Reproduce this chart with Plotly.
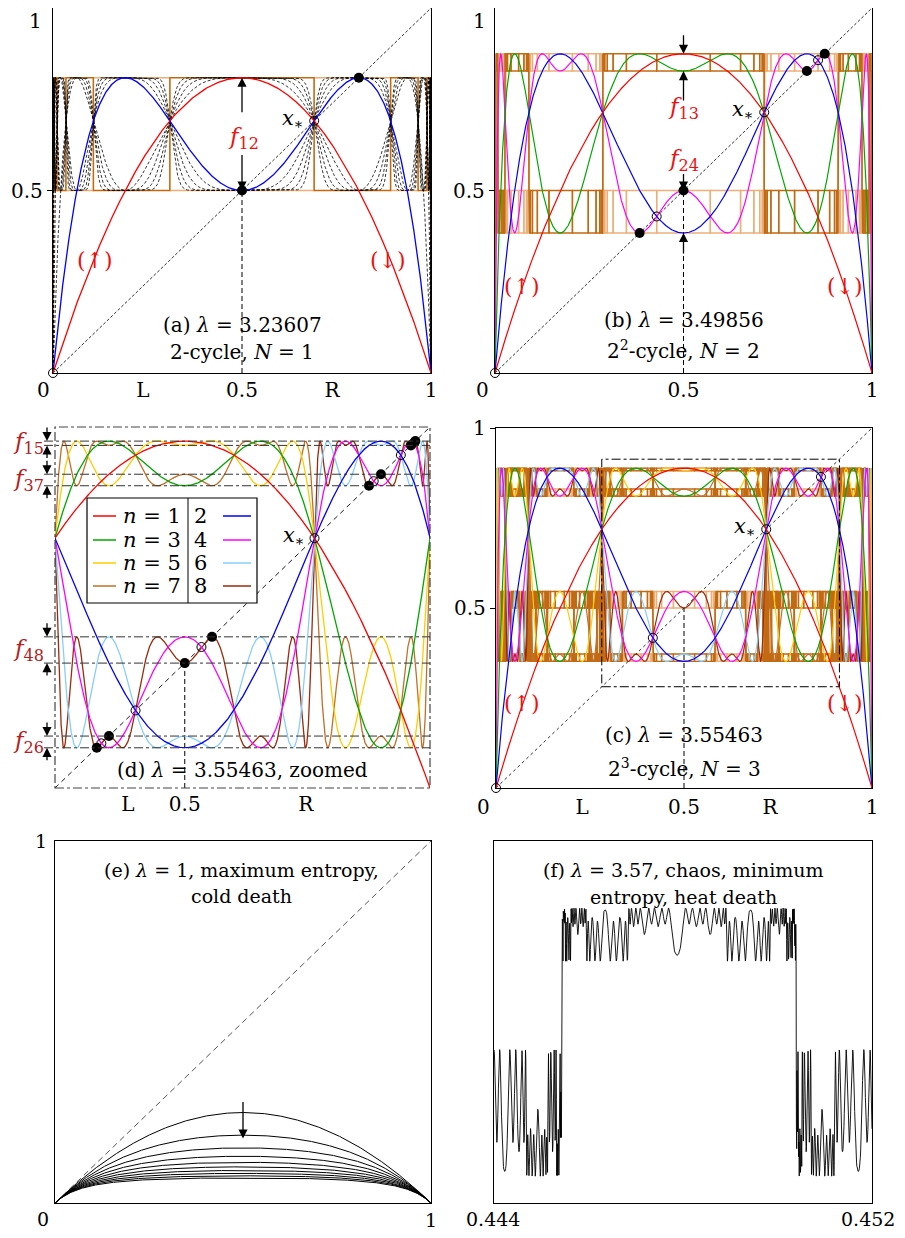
import numpy as np
import plotly.graph_objects as go

# ---------------- data ----------------
LAMBDA_A = 3.23607          # (a) superstable 2-cycle
LAMBDA_B = 3.49856          # (b) superstable 4-cycle
LAMBDA_C = 3.55463          # (c),(d) superstable 8-cycle
LAMBDA_E = 1.0              # (e)
LAMBDA_F = 3.57             # (f)

ITER_A_COLOURED = [1, 2]
ITER_A_DASHED = [3, 4, 5, 6, 7, 8, 9, 10]
ITER_B = [1, 2, 3, 4]
ITER_C = [1, 2, 3, 4, 5, 6, 7, 8]
ITER_E = [1, 2, 3, 4, 5, 6, 7, 8, 9, 10]
ITER_F = 273
PERIOD_A, PERIOD_B, PERIOD_C = 2, 4, 8
LONG_ITER = 256

X_RANGE_F = [0.444, 0.452]
X_TICKTEXT_F = ["0.444", "0.452"]

X_TICKS_A = [0.238, 0.5, 0.738, 1]
X_TICKS_C = [0.229, 0.5, 0.729, 1]
X_TICKTEXT_LR = ["L", "0.5", "R", "1"]
X_TICKS_B = [0.5, 1]
X_TICKTEXT_B = ["0.5", "1"]
X_TICKS_D = [0.404, 0.5, 0.704]
X_TICKTEXT_D = ["L", "0.5", "R"]
GAP_PAIRS_D = [(1, 5), (3, 7), (4, 8), (2, 6)]   # f15, f37, f48, f26

COLOURS = {1: "#ff0000", 2: "#0000ff", 3: "#00a800", 4: "#ff00ff",
           5: "#ffcc00", 6: "#87cefa", 7: "#c0702a", 8: "#9c2a0c"}
ORANGE_LIGHT = "#ebb07a"
ORANGE_DARK = "#c26a12"
RED_TXT = "#ee1111"
GAP_TXT = "#b22222"

# page geometry: the browser puts an 8px body margin round the figure
PAGE_W, PAGE_H, OFF = 905, 1238, 8
W, H = PAGE_W - 2 * OFF, PAGE_H - 2 * OFF
FONT = "DejaVu Serif, serif"

# ---------------- helpers ----------------
def iterate(lam, x, n):
    y = np.array(x, dtype=float)
    for _ in range(n):
        y = lam * y * (1 - y)
    return y

def orbit(lam, x0, p):
    pts, v = [], x0
    for _ in range(p):
        pts.append(v)
        v = lam * v * (1 - v)
    return pts

def fixed_point(lam):
    return 1 - 1 / lam

def two_cycle(lam):
    s = np.sqrt((lam + 1) * (lam - 3))
    return [((lam + 1) - s) / (2 * lam), ((lam + 1) + s) / (2 * lam)]

def cycle_roots(lam, p, exclude):
    xs = np.linspace(1e-7, 1 - 1e-7, 400001)
    g = iterate(lam, xs, p) - xs
    idx = np.where(np.sign(g[:-1]) != np.sign(g[1:]))[0]
    roots = []
    for i in idx:
        a, b = xs[i], xs[i + 1]
        r = a - g[i] * (b - a) / (g[i + 1] - g[i])
        if all(abs(r - e) > 1e-3 for e in exclude):
            roots.append(r)
    return roots

def P(xpx, ypx):
    """screen pixel -> paper coordinate"""
    return (xpx - OFF) / W, 1 - (ypx - OFF) / H

def clamp(v):
    return min(1.0, max(0.0, v))

def dom(x0, x1, y0, y1):
    a, b = P(x0, y1)
    c, d = P(x1, y0)
    return [clamp(a), clamp(c)], [clamp(b), clamp(d)]

# panel boxes in screen pixels (left, right, top, bottom)
BOX = {"a": (53, 431, 7, 373), "b": (495, 872, 8, 373),
       "c": (496, 872, 428, 788), "d": (55, 430, 427, 788),
       "e": (55, 431, 841, 1203), "f": (494, 872, 841, 1203)}
AX = {"a": ("x", "y"), "b": ("x2", "y2"), "c": ("x3", "y3"),
      "d": ("x4", "y4"), "e": ("x5", "y5"), "f": ("x6", "y6")}

D_LO = 1 / LAMBDA_C                                   # preimage of x*
D_HI = (1 + np.sqrt(1 - 4 / LAMBDA_C ** 2)) / 2       # f(D_HI) = D_LO

xf_grid = np.linspace(X_RANGE_F[0], X_RANGE_F[1], 1201)
yf_vals = iterate(LAMBDA_F, xf_grid, ITER_F)
_span = yf_vals.max() - yf_vals.min()
Y_RANGE_F = [yf_vals.min() - 0.10 * _span, yf_vals.max() + 0.25 * _span]

RANGES = {"a": ([0, 1], [0, 1]), "b": ([0, 1], [0, 1]), "c": ([0, 1], [0, 1]),
          "d": ([D_LO, D_HI], [D_LO, D_HI]), "e": ([0, 1], [0, 1]),
          "f": (X_RANGE_F, Y_RANGE_F)}

def to_paper(panel, xv, yv):
    l, r, t, b = BOX[panel]
    (x0, x1), (y0, y1) = RANGES[panel]
    px = l + (xv - x0) / (x1 - x0) * (r - l)
    py = b - (yv - y0) / (y1 - y0) * (b - t)
    return P(px, py)

fig = go.Figure()

def line(panel, x, y, color, width=1.3, dash=None):
    xa, ya = AX[panel]
    fig.add_trace(go.Scatter(x=x, y=y, mode="lines", xaxis=xa, yaxis=ya,
                             line=dict(color=color, width=width, dash=dash),
                             hoverinfo="skip", showlegend=False))

def markers(panel, pts, filled):
    xa, ya = AX[panel]
    if filled:
        mk = dict(symbol="circle", size=10, color="black")
    else:
        mk = dict(symbol="circle-open", size=9, color="black", line=dict(width=1, color="black"))
    fig.add_trace(go.Scatter(x=pts, y=pts, mode="markers", xaxis=xa, yaxis=ya, marker=mk,
                             cliponaxis=False, hoverinfo="skip", showlegend=False))

def step_functions(panel, lam, period, light_every=2, npts=4001):
    xs = np.linspace(0, 1, npts)
    y = iterate(lam, xs, LONG_ITER)
    for j in range(period):
        line(panel, xs, y, ORANGE_LIGHT if j % light_every == 0 else ORANGE_DARK, width=1.4)
        y = lam * y * (1 - y)

annotations = []
shapes = []

def text(panel, x, y, s, size=20, color="black", xanchor="center", yanchor="middle",
         xshift=0, yshift=0, domain=False):
    xa, ya = AX[panel]
    annotations.append(dict(x=x, y=y, xref=xa + (" domain" if domain else ""),
                            yref=ya + (" domain" if domain else ""), text=s, showarrow=False,
                            font=dict(family=FONT, size=size, color=color),
                            xanchor=xanchor, yanchor=yanchor, xshift=xshift, yshift=yshift))

def ptext(xpx, ypx, s, size=20, color="black", xanchor="center", borderpad=1):
    px, py = P(xpx, ypx)
    annotations.append(dict(x=px, y=py, xref="paper", yref="paper", text=s, showarrow=False,
                            xanchor=xanchor, yanchor="middle", borderpad=borderpad,
                            font=dict(family=FONT, size=size, color=color)))

def arrow(xref, yref, x, y, ay):
    annotations.append(dict(x=x, y=y, xref=xref, yref=yref, text="", showarrow=True,
                            ax=0, ay=ay, arrowhead=2, arrowsize=1.4, arrowwidth=1.3,
                            arrowcolor="black", standoff=0))

def xstar_label(panel, lam):
    xs = fixed_point(lam)
    text(panel, xs, xs, "<i>x</i><sub>∗</sub>", size=21, xanchor="right", xshift=-8, yshift=2)

# ---------------- panel (a) ----------------
xa_grid = np.linspace(0, 1, 3001)
step_functions("a", LAMBDA_A, PERIOD_A)
for n in ITER_A_DASHED:
    line("a", xa_grid, iterate(LAMBDA_A, xa_grid, n), "black", width=0.8, dash="3px,2px")
line("a", [0, 1], [0, 1], "black", width=0.8, dash="3px,2px")
line("a", [0.5, 0.5], [0, 0.5], "black", width=1, dash="5px,3px")
for n in ITER_A_COLOURED[::-1]:
    line("a", xa_grid, iterate(LAMBDA_A, xa_grid, n), COLOURS[n], width=1.3)
markers("a", orbit(LAMBDA_A, 0.5, PERIOD_A), True)
markers("a", [0, fixed_point(LAMBDA_A)], False)
xstar_label("a", LAMBDA_A)
cyc_a = orbit(LAMBDA_A, 0.5, PERIOD_A)
text("a", 0.503, (max(cyc_a) + min(cyc_a)) / 2 - 0.012, "<i>f</i><sub>12</sub>", size=23, color=RED_TXT)
arrow("x", "y", 0.5, max(cyc_a), 36)
arrow("x", "y", 0.5, min(cyc_a), -37)
text("a", 0.111, 0.309, "(↑)", size=22, color=RED_TXT)
text("a", 0.886, 0.309, "(↓)", size=22, color=RED_TXT)
text("a", 0.5, 0.131, "(a) <i>λ</i> = 3.23607", domain=True)
text("a", 0.5, 0.057, "2-cycle, <i>N</i> = 1", domain=True)
ptext(43, 21, "1", xanchor="right", borderpad=0)
ptext(43, 390, "0")

# ---------------- panel (b) ----------------
xb_grid = np.linspace(0, 1, 4001)
step_functions("b", LAMBDA_B, PERIOD_B)
line("b", [0, 1], [0, 1], "black", width=0.8, dash="3px,2px")
line("b", [0.5, 0.5], [0, 0.5], "black", width=1, dash="5px,3px")
for n in ITER_B[::-1]:
    line("b", xb_grid, iterate(LAMBDA_B, xb_grid, n), COLOURS[n], width=1.2)
cyc_b = sorted(orbit(LAMBDA_B, 0.5, PERIOD_B))
markers("b", cyc_b, True)
markers("b", [0, fixed_point(LAMBDA_B)] + two_cycle(LAMBDA_B), False)
xstar_label("b", LAMBDA_B)
arrow("x2", "y2", 0.5, cyc_b[3], -20)
arrow("x2", "y2", 0.5, cyc_b[2], 31)
arrow("x2", "y2", 0.5, cyc_b[1], -18)
arrow("x2", "y2", 0.5, cyc_b[0], 22)
text("b", 0.5, 0.726, "<i>f</i><sub>13</sub>", size=23, color=RED_TXT)
text("b", 0.5, 0.584, "<i>f</i><sub>24</sub>", size=23, color=RED_TXT)
text("b", 0.072, 0.236, "(↑)", size=22, color=RED_TXT)
text("b", 0.928, 0.236, "(↓)", size=22, color=RED_TXT)
text("b", 0.5, 0.145, "(b) <i>λ</i> = 3.49856", domain=True)
text("b", 0.5, 0.063, "2<sup>2</sup>-cycle, <i>N</i> = 2", domain=True)
ptext(487, 21, "1", xanchor="right", borderpad=0)
ptext(482, 390, "0")

# ---------------- panel (c) ----------------
xc_grid = np.linspace(0, 1, 6001)
step_functions("c", LAMBDA_C, PERIOD_C, light_every=4)
line("c", [0, 1], [0, 1], "black", width=0.8, dash="dot")
line("c", [0.5, 0.5], [0, 0.5], "black", width=1, dash="5px,3px")
for n in ITER_C[::-1]:
    line("c", xc_grid, iterate(LAMBDA_C, xc_grid, n), COLOURS[n], width=1.2)
markers("c", [0, fixed_point(LAMBDA_C)] + two_cycle(LAMBDA_C), False)
xstar_label("c", LAMBDA_C)
shapes.append(dict(type="rect", xref="x3", yref="y3", x0=D_LO, x1=D_HI, y0=D_LO, y1=D_HI,
                   line=dict(color="black", width=1, dash="dashdot"), layer="above"))
text("c", 0.069, 0.236, "(↑)", size=22, color=RED_TXT)
text("c", 0.928, 0.236, "(↓)", size=22, color=RED_TXT)
text("c", 0.5, 0.147, "(c) <i>λ</i> = 3.55463", domain=True)
text("c", 0.5, 0.056, "2<sup>3</sup>-cycle, <i>N</i> = 3", domain=True)
ptext(483, 807, "0")

# ---------------- panel (d) ----------------
xd_grid = np.linspace(D_LO, D_HI, 4001)
line("d", [D_LO, D_HI], [D_LO, D_HI], "black", width=0.9, dash="5px,4px")
line("d", [0.5, 0.5], [D_LO, 0.5], "black", width=1, dash="5px,3px")
for n in ITER_C[::-1]:
    line("d", xd_grid, iterate(LAMBDA_C, xd_grid, n), COLOURS[n], width=1.3)
cyc_d = orbit(LAMBDA_C, 0.5, PERIOD_C)     # index k = f^k(0.5), k = 0..7
levels_d = {k if k > 0 else 8: v for k, v in enumerate(cyc_d)}
markers("d", cyc_d, True)
unstable2 = two_cycle(LAMBDA_C)
unstable4 = cycle_roots(LAMBDA_C, 4, [0, fixed_point(LAMBDA_C)] + unstable2)
markers("d", [fixed_point(LAMBDA_C)] + unstable2 + unstable4, False)
xstar_label("d", LAMBDA_C)
fx0, fy1 = to_paper("d", D_LO, D_HI)
fx1, fy0 = to_paper("d", D_HI, D_LO)
shapes.append(dict(type="rect", xref="paper", yref="paper", x0=fx0, x1=fx1, y0=fy0, y1=fy1,
                   line=dict(color="#444444", width=1.2, dash="dashdot"), layer="above"))
left_px, _ = P(44, 0)
arrow_x, _ = P(47, 0)
label_x, _ = P(28, 0)
for (i, j) in GAP_PAIRS_D:
    for k in (i, j):
        _, yp = to_paper("d", D_LO, levels_d[k])
        shapes.append(dict(type="line", xref="paper", yref="paper", x0=left_px, x1=fx1,
                           y0=yp, y1=yp, line=dict(color="#333333", width=1, dash="dashdot"),
                           layer="above"))
    hi, lo = max(levels_d[i], levels_d[j]), min(levels_d[i], levels_d[j])
    arrow("paper", "y4", arrow_x, hi, -15)
    arrow("paper", "y4", arrow_x, lo, 14)
    annotations.append(dict(x=label_x, y=(hi + lo) / 2, xref="paper", yref="y4",
                            xanchor="center", yanchor="middle",
                            text="<i>f</i><sub>%d%d</sub>" % (i, j), showarrow=False,
                            font=dict(family=FONT, size=23, color=GAP_TXT)))
text("d", 0.5, 0.05, "(d) <i>λ</i> = 3.55463, zoomed", domain=True)

# legend of (d)
lx0, ly1 = P(87, 498)
lx1, ly0 = P(257, 603)
shapes.append(dict(type="rect", xref="paper", yref="paper", x0=lx0, x1=lx1, y0=ly0, y1=ly1,
                   fillcolor="white", line=dict(color="black", width=1.2), layer="above"))
dvx, _ = P(188, 0)
shapes.append(dict(type="line", xref="paper", yref="paper", x0=dvx, x1=dvx, y0=ly0, y1=ly1,
                   line=dict(color="black", width=1), layer="above"))
row_px = [516, 540, 563, 586]
for r, ypx in enumerate(row_px):
    nl, nr = ITER_C[2 * r], ITER_C[2 * r + 1]
    for (a_px, b_px, n) in ((93, 116, nl), (223, 251, nr)):
        xa0, yy = P(a_px, ypx)
        xa1, _ = P(b_px, ypx)
        shapes.append(dict(type="line", xref="paper", yref="paper", x0=xa0, x1=xa1, y0=yy, y1=yy,
                           line=dict(color=COLOURS[n], width=1.5), layer="above"))
    ptext(152, ypx, "<i>n</i> = %d" % nl, size=21)
    ptext(200, ypx, "%d" % nr, size=21)

# ---------------- panel (e) ----------------
xe_grid = np.linspace(0, 1, 801)
line("e", [0, 1], [0, 1], "#555555", width=1, dash="6px,4px")
for n in ITER_E:
    line("e", xe_grid, iterate(LAMBDA_E, xe_grid, n), "black", width=1)
arrow("x5", "y5", 0.5, 0.178, -38)
text("e", 0.497, 0.92, "(e) <i>λ</i> = 1, maximum entropy,", size=19, domain=True)
text("e", 0.497, 0.848, "cold death", size=19, domain=True)
ptext(43, 1219, "0", size=19)

# ---------------- panel (f) ----------------
line("f", xf_grid, yf_vals, "black", width=0.9)
text("f", 0.5, 0.92, "(f) <i>λ</i> = 3.57, chaos, minimum", size=19, domain=True)
text("f", 0.5, 0.845, "entropy, heat death", size=19, domain=True)
ptext(493, 1219, X_TICKTEXT_F[0], size=19)
ptext(PAGE_W - OFF, 1219, X_TICKTEXT_F[1], size=19, xanchor="right")

# ---------------- axes ----------------
def axis_pair(panel, xticks, xtext, yticks, ytext, frame=True, ytick_marks=True, tsize=20,
              xstand=0, ystand=0):
    l, r, t, b = BOX[panel]
    xd, yd = dom(l, r, t, b)
    xa, ya = AX[panel]
    xr, yr = RANGES[panel]
    kx = "xaxis" + xa[1:]
    ky = "yaxis" + ya[1:]
    common = dict(showgrid=False, zeroline=False, showline=frame, mirror=frame,
                  linecolor="black", linewidth=1.3, automargin=False,
                  tickfont=dict(family=FONT, size=tsize, color="black"))
    fig.layout[kx] = dict(domain=xd, range=xr, anchor=ya, tickvals=xticks, ticktext=xtext,
                          ticks="", ticklabelstandoff=xstand, **common)
    fig.layout[ky] = dict(domain=yd, range=yr, anchor=xa, tickvals=yticks, ticktext=ytext,
                          ticks="outside", ticklen=5, ticklabelstandoff=ystand,
                          tickcolor="black" if ytick_marks else "rgba(0,0,0,0)", **common)

axis_pair("a", X_TICKS_A, X_TICKTEXT_LR, [0.5], ["0.5"], xstand=-1)
axis_pair("b", X_TICKS_B, X_TICKTEXT_B, [0.5], ["0.5"], xstand=-1)
axis_pair("c", X_TICKS_C, X_TICKTEXT_LR, [0.5, 1], ["0.5", "1"], xstand=1)
axis_pair("d", X_TICKS_D, X_TICKTEXT_D, [], [], frame=False, xstand=2)
axis_pair("e", [1], ["1"], [1], ["1"], ytick_marks=False, tsize=19, xstand=0, ystand=-2)
axis_pair("f", [], [], [], [], ytick_marks=False, tsize=19)

fig.update_layout(width=W, height=H, margin=dict(l=0, r=0, t=0, b=0, pad=0, autoexpand=False),
                  paper_bgcolor="white", plot_bgcolor="white", showlegend=False,
                  font=dict(family=FONT, size=20, color="black"),
                  annotations=annotations, shapes=shapes)
fig.write_html("out.html")
